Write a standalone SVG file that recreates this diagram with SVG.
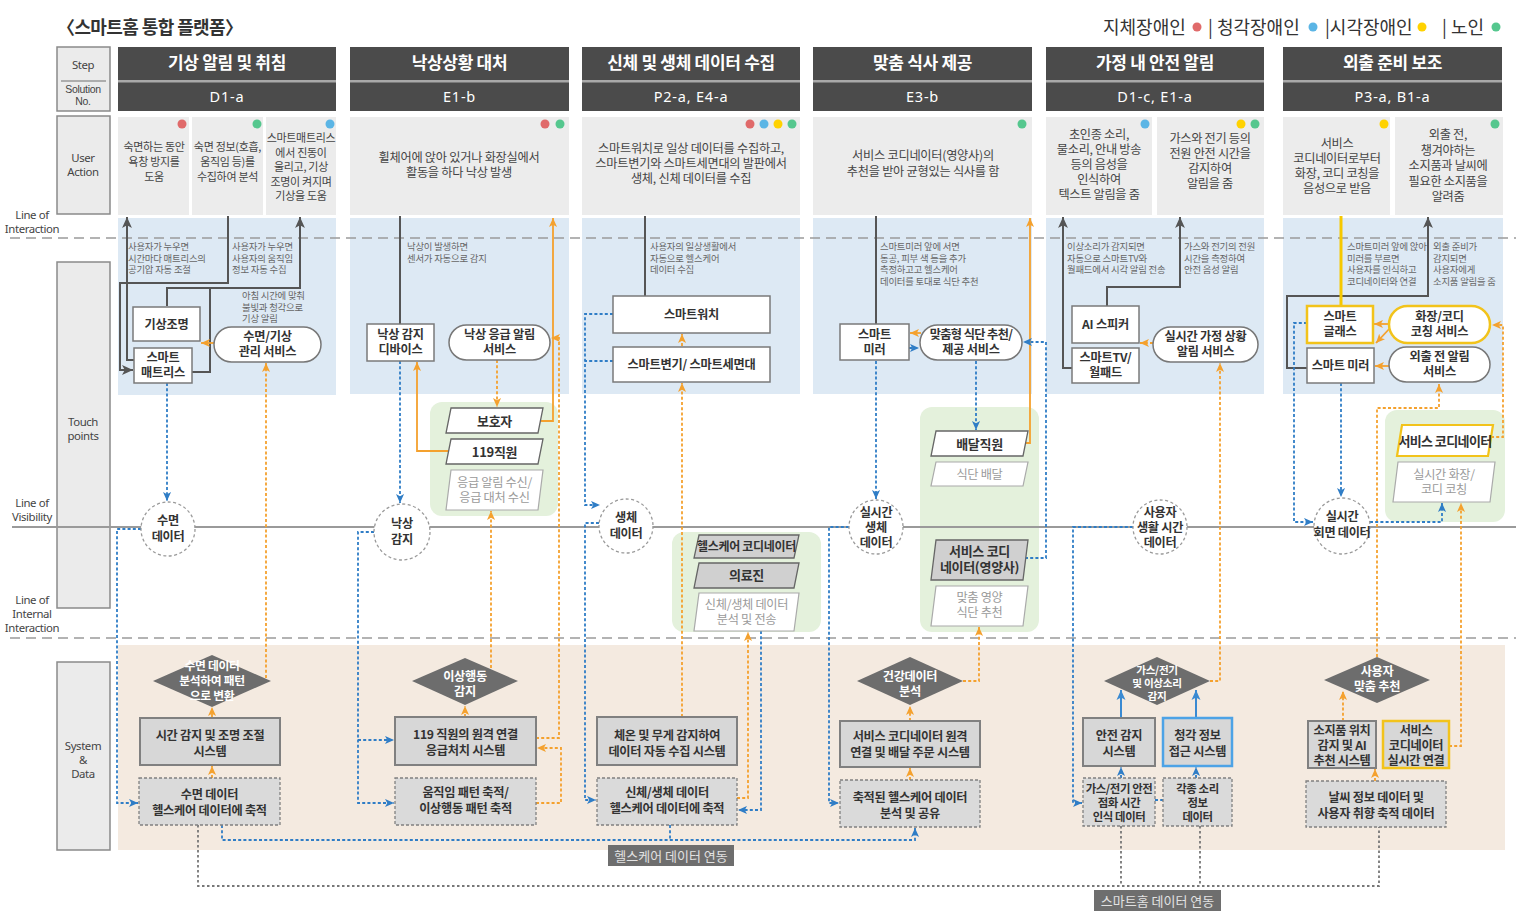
<svg xmlns="http://www.w3.org/2000/svg" width="1530" height="919" viewBox="0 0 1530 919">
<defs>
<style>
text{font-family:"Noto Sans CJK KR","Noto Sans",sans-serif;}
.ti{font-size:18px;font-weight:700;fill:#333;letter-spacing:-0.6px}
.lg{font-size:18px;fill:#333}
.ht{font-size:17px;font-weight:700;fill:#fff;text-anchor:middle;letter-spacing:-0.3px}
.hs{font-family:"Noto Sans",sans-serif;font-size:14.5px;fill:#fff;text-anchor:middle;letter-spacing:0.8px}
.lab{font-family:"Noto Sans",sans-serif;font-size:11.4px;fill:#444;text-anchor:middle;letter-spacing:-0.4px}
.lab2{font-family:"Liberation Sans",sans-serif;font-size:10.5px;fill:#444;text-anchor:middle;letter-spacing:-0.3px}
.ua{font-size:11px;fill:#444;text-anchor:middle;letter-spacing:-0.3px}
.ub{font-size:12.2px;fill:#444;text-anchor:middle;letter-spacing:-0.25px}
.uc{font-size:12.2px;fill:#444;text-anchor:middle;letter-spacing:-0.3px}
.sm{font-size:9.4px;fill:#666;letter-spacing:-0.2px}
.tp{font-size:12.2px;font-weight:700;fill:#333;text-anchor:middle;letter-spacing:-0.2px}
.ct{font-size:12.2px;font-weight:700;fill:#333;text-anchor:middle;letter-spacing:-0.3px}
.dt{font-size:12.2px;font-weight:700;fill:#fff;text-anchor:middle;letter-spacing:-0.3px}
.sy{font-size:12.2px;font-weight:700;fill:#333;text-anchor:middle;letter-spacing:-0.25px}
.sy3{font-size:12.2px;font-weight:700;fill:#333;text-anchor:middle;letter-spacing:-0.3px}
.sy2{font-size:11.4px;font-weight:700;fill:#333;text-anchor:middle;letter-spacing:-0.4px}
.pb{font-size:13px;font-weight:700;fill:#333;text-anchor:middle;letter-spacing:-0.3px}
.pg{font-size:12.2px;fill:#9a9a9a;text-anchor:middle;letter-spacing:-0.3px}
.lk{font-size:13px;fill:#e2e2e2;text-anchor:middle}
.lbox{fill:#ebebeb;stroke:#8a8a8a;stroke-width:1.5}
.hd{fill:#4b4b4b}
.uabg{fill:#ececec}
.blue{fill:#dde9f4}
.beige{fill:#f4eae0}
.green{fill:#e4f1dc}
.box{fill:#fff;stroke:#7a7a7a;stroke-width:1.5}
.pill{fill:#fff;stroke:#777;stroke-width:1.5}
.ybox{fill:#fff;stroke:#f2c31b;stroke-width:2.5}
.sbox{fill:#d7d7d7;stroke:#808080;stroke-width:2}
.dbox{fill:#dadada;stroke:#808080;stroke-width:1.3;stroke-dasharray:3 2}
.cd{fill:#fff;stroke:#9a9a9a;stroke-width:1.3;stroke-dasharray:3 2.5}
.dia{fill:#6d6d6d}
.pw{fill:#fff;stroke:#666;stroke-width:1.3}
.pgray{fill:#d0d0d0;stroke:#666;stroke-width:1.3}
.pl{fill:#fff;stroke:#aaa;stroke-width:1.2}
.ld{fill:none;stroke:#555;stroke-width:2}
.os{fill:none;stroke:#f4a12e;stroke-width:1.8}
.od{fill:none;stroke:#f4a12e;stroke-width:1.8;stroke-dasharray:3 2.2}
.bd{fill:none;stroke:#2f7dc6;stroke-width:1.8;stroke-dasharray:3 2.2}
.bs{fill:none;stroke:#3a8ad2;stroke-width:2}
.gd{fill:none;stroke:#777;stroke-width:1.8;stroke-dasharray:2.5 2.5}
.ys{fill:none;stroke:#f6c800;stroke-width:3}
.dash{fill:none;stroke:#9a9a9a;stroke-width:1.5;stroke-dasharray:10 6}
.vis{fill:none;stroke:#9a9a9a;stroke-width:2}
</style>
<marker id="mk" viewBox="0 0 10 10" refX="10" refY="5" markerWidth="11" markerHeight="11" markerUnits="userSpaceOnUse" orient="auto"><path d="M0,0.5 L10,5 L0,9.5 L2.5,5z" fill="#555"/></marker>
<marker id="mo" viewBox="0 0 10 10" refX="10" refY="5" markerWidth="9" markerHeight="9" markerUnits="userSpaceOnUse" orient="auto"><path d="M0,0.5 L10,5 L0,9.5 L2.5,5z" fill="#f4a12e"/></marker>
<marker id="mb" viewBox="0 0 10 10" refX="10" refY="5" markerWidth="9" markerHeight="9" markerUnits="userSpaceOnUse" orient="auto"><path d="M0,0.5 L10,5 L0,9.5 L2.5,5z" fill="#2f7dc6"/></marker>
<marker id="mbs" viewBox="0 0 10 10" refX="10" refY="5" markerWidth="10" markerHeight="10" markerUnits="userSpaceOnUse" orient="auto"><path d="M0,0.5 L10,5 L0,9.5 L2.5,5z" fill="#3a8ad2"/></marker>
</defs>

<rect width="1530" height="919" fill="#fff"/>

<g id="title">
<text class="ti" x="57" y="34">〈스마트홈 통합 플랫폼〉</text>
</g>
<g id="legend">
<text class="lg" x="1103" y="34">지체장애인</text>
<circle cx="1197" cy="27" r="4.5" fill="#e06a6a"/>
<text class="lg" x="1208" y="34">| 청각장애인</text>
<circle cx="1313" cy="27" r="4.5" fill="#5bb5e5"/>
<text class="lg" x="1325" y="34">|시각장애인</text>
<circle cx="1422" cy="27" r="4.5" fill="#ffd200"/>
<text class="lg" x="1442" y="34">| 노인</text>
<circle cx="1496" cy="27" r="4.5" fill="#55c78e"/>
</g>

<g id="row-labels">
<rect class="lbox" x="57" y="47" width="53" height="64"/>
<line x1="61" y1="81" x2="106" y2="81" stroke="#999" stroke-width="1.5"/>
<text class="lab" x="83" y="69">Step</text>
<text class="lab2" x="83" y="93">Solution</text>
<text class="lab2" x="83" y="105">No.</text>
<rect class="lbox" x="57" y="116" width="53" height="98"/>
<text class="lab" x="83" y="162">User</text>
<text class="lab" x="83" y="176">Action</text>
<rect class="lbox" x="57" y="262" width="53" height="346"/>
<text class="lab" x="83" y="426">Touch</text>
<text class="lab" x="83" y="440">points</text>
<rect class="lbox" x="57" y="662" width="53" height="188"/>
<text class="lab" x="83" y="750">System</text>
<text class="lab" x="83" y="764">&amp;</text>
<text class="lab" x="83" y="778">Data</text>
<text class="lab" x="32" y="219">Line of</text>
<text class="lab" x="32" y="233">Interaction</text>
<text class="lab" x="32" y="507">Line of</text>
<text class="lab" x="32" y="521">Visibility</text>
<text class="lab" x="32" y="604">Line of</text>
<text class="lab" x="32" y="618">Internal</text>
<text class="lab" x="32" y="632">Interaction</text>
</g>

<g id="headers">
<rect class="hd" x="118" y="47" width="218" height="64"/>
<rect class="hd" x="350" y="47" width="219" height="64"/>
<rect class="hd" x="582" y="47" width="218" height="64"/>
<rect class="hd" x="813" y="47" width="219" height="64"/>
<rect class="hd" x="1046" y="47" width="218" height="64"/>
<rect class="hd" x="1283" y="47" width="219" height="64"/>
<g fill="#a9a9a9">
<rect x="118" y="80" width="218" height="2.5"/><rect x="350" y="80" width="219" height="2.5"/><rect x="582" y="80" width="218" height="2.5"/><rect x="813" y="80" width="219" height="2.5"/><rect x="1046" y="80" width="218" height="2.5"/><rect x="1283" y="80" width="219" height="2.5"/>
</g>
<text class="ht" x="227" y="69">기상 알림 및 취침</text>
<text class="ht" x="459.5" y="69">낙상상황 대처</text>
<text class="ht" x="691" y="69">신체 및 생체 데이터 수집</text>
<text class="ht" x="922.5" y="69">맞춤 식사 제공</text>
<text class="ht" x="1155" y="69">가정 내 안전 알림</text>
<text class="ht" x="1392.5" y="69">외출 준비 보조</text>
<text class="hs" x="227" y="102">D1-a</text>
<text class="hs" x="459.5" y="102">E1-b</text>
<text class="hs" x="691" y="102">P2-a, E4-a</text>
<text class="hs" x="922.5" y="102">E3-b</text>
<text class="hs" x="1155" y="102">D1-c, E1-a</text>
<text class="hs" x="1392.5" y="102">P3-a, B1-a</text>
</g>

<g id="backgrounds">
<rect class="uabg" x="118" y="117" width="71" height="98"/>
<rect class="uabg" x="192" y="117" width="71" height="98"/>
<rect class="uabg" x="266" y="117" width="70" height="98"/>
<rect class="uabg" x="350" y="117" width="219" height="98"/>
<rect class="uabg" x="582" y="117" width="218" height="98"/>
<rect class="uabg" x="813" y="117" width="219" height="98"/>
<rect class="uabg" x="1046" y="117" width="106" height="98"/>
<rect class="uabg" x="1157" y="117" width="107" height="98"/>
<rect class="uabg" x="1283" y="117" width="107" height="98"/>
<rect class="uabg" x="1395" y="117" width="108" height="98"/>
<rect class="blue" x="118" y="218" width="218" height="177"/>
<rect class="blue" x="350" y="218" width="219" height="176"/>
<rect class="blue" x="582" y="218" width="218" height="176"/>
<rect class="blue" x="813" y="218" width="219" height="176"/>
<rect class="blue" x="1046" y="218" width="218" height="176"/>
<rect class="blue" x="1283" y="218" width="220" height="176"/>
<rect class="beige" x="118" y="645" width="1387" height="205"/>
<rect class="green" x="430" y="402" width="128" height="114" rx="12"/>
<rect class="green" x="672" y="532" width="149" height="100" rx="12"/>
<rect class="green" x="920" y="407" width="119" height="225" rx="12"/>
<rect class="green" x="1385" y="410" width="120" height="112" rx="12"/>
</g>

<g id="user-actions">
<g fill="#e06a6a"><circle cx="182" cy="124" r="4.5"/><circle cx="545" cy="124" r="4.5"/><circle cx="750" cy="124" r="4.5"/></g>
<g fill="#55c78e"><circle cx="257" cy="124" r="4.5"/><circle cx="560" cy="124" r="4.5"/><circle cx="792" cy="124" r="4.5"/><circle cx="1022" cy="124" r="4.5"/><circle cx="1255" cy="124" r="4.5"/><circle cx="1495" cy="124" r="4.5"/></g>
<g fill="#5bb5e5"><circle cx="330" cy="124" r="4.5"/><circle cx="764" cy="124" r="4.5"/><circle cx="1145" cy="124" r="4.5"/></g>
<g fill="#ffd200"><circle cx="778" cy="124" r="4.5"/><circle cx="1241" cy="124" r="4.5"/><circle cx="1384" cy="124" r="4.5"/></g>
<text class="ua"><tspan x="154" y="151">숙면하는 동안</tspan><tspan x="154" y="166">욕창 방지를</tspan><tspan x="154" y="181">도움</tspan></text>
<text class="ua"><tspan x="227.5" y="151">숙면 정보(호흡,</tspan><tspan x="227.5" y="166">움직임 등)를</tspan><tspan x="227.5" y="181">수집하여 분석</tspan></text>
<text class="ua"><tspan x="301" y="142">스마트매트리스</tspan><tspan x="301" y="156.5">에서 진동이</tspan><tspan x="301" y="171">울리고, 기상</tspan><tspan x="301" y="185.5">조명이 켜지며</tspan><tspan x="301" y="200">기상을 도움</tspan></text>
<text class="ub"><tspan x="459" y="162">휠체어에 앉아 있거나 화장실에서</tspan><tspan x="459" y="177">활동을 하다 낙상 발생</tspan></text>
<text class="ub"><tspan x="691" y="153">스마트워치로 일상 데이터를 수집하고,</tspan><tspan x="691" y="168">스마트변기와 스마트세면대의 발판에서</tspan><tspan x="691" y="183">생체, 신체 데이터를 수집</tspan></text>
<text class="ub"><tspan x="923" y="160">서비스 코디네이터(영양사)의</tspan><tspan x="923" y="176">추천을 받아 균형있는 식사를 함</tspan></text>
<text class="uc"><tspan x="1099" y="139">초인종 소리,</tspan><tspan x="1099" y="154">물소리, 안내 방송</tspan><tspan x="1099" y="169">등의 음성을</tspan><tspan x="1099" y="184">인식하여</tspan><tspan x="1099" y="199">텍스트 알림을 줌</tspan></text>
<text class="uc"><tspan x="1210" y="143">가스와 전기 등의</tspan><tspan x="1210" y="158">전원 안전 시간을</tspan><tspan x="1210" y="173">감지하여</tspan><tspan x="1210" y="188">알림을 줌</tspan></text>
<text class="uc"><tspan x="1337" y="148">서비스</tspan><tspan x="1337" y="163">코디네이터로부터</tspan><tspan x="1337" y="178">화장, 코디 코칭을</tspan><tspan x="1337" y="193">음성으로 받음</tspan></text>
<text class="uc"><tspan x="1448" y="139">외출 전,</tspan><tspan x="1448" y="155">챙겨야하는</tspan><tspan x="1448" y="170">소지품과 날씨에</tspan><tspan x="1448" y="186">필요한 소지품을</tspan><tspan x="1448" y="201">알려줌</tspan></text>
</g>

<g id="notes">
<text class="sm"><tspan x="128" y="250">사용자가 누우면</tspan><tspan x="128" y="261.5">시간마다 매트리스의</tspan><tspan x="128" y="273">공기압 자동 조절</tspan></text>
<text class="sm"><tspan x="232" y="250">사용자가 누우면</tspan><tspan x="232" y="261.5">사용자의 움직임</tspan><tspan x="232" y="273">정보 자동 수집</tspan></text>
<text class="sm"><tspan x="242" y="299">아침 시간에 맞춰</tspan><tspan x="242" y="310.5">불빛과 청각으로</tspan><tspan x="242" y="322">기상 알림</tspan></text>
<text class="sm"><tspan x="407" y="250">낙상이 발생하면</tspan><tspan x="407" y="261.5">센서가 자동으로 감지</tspan></text>
<text class="sm"><tspan x="650" y="250">사용자의 일상생활에서</tspan><tspan x="650" y="261.5">자동으로 헬스케어</tspan><tspan x="650" y="273">데이터 수집</tspan></text>
<text class="sm"><tspan x="880" y="250">스마트미러 앞에 서면</tspan><tspan x="880" y="261.5">동공, 피부 색 등을 추가</tspan><tspan x="880" y="273">측정하고고 헬스케어</tspan><tspan x="880" y="284.5">데이터를 토대로 식단 추천</tspan></text>
<text class="sm"><tspan x="1067" y="250">이상소리가 감지되면</tspan><tspan x="1067" y="261.5">자동으로 스마트TV와</tspan><tspan x="1067" y="273">월패드에서 시각 알림 전송</tspan></text>
<text class="sm"><tspan x="1184" y="250">가스와 전기의 전원</tspan><tspan x="1184" y="261.5">시간을 측정하여</tspan><tspan x="1184" y="273">안전 음성 알림</tspan></text>
<text class="sm"><tspan x="1347" y="250">스마트미러 앞에 앉아</tspan><tspan x="1347" y="261.5">미러를 부르면</tspan><tspan x="1347" y="273">사용자를 인식하고</tspan><tspan x="1347" y="284.5">코디네이터와 연결</tspan></text>
<text class="sm"><tspan x="1433" y="250">외출 준비가</tspan><tspan x="1433" y="261.5">감지되면</tspan><tspan x="1433" y="273">사용자에게</tspan><tspan x="1433" y="284.5">소지품 알림을 줌</tspan></text>
</g>

<g id="service-lines">
<line class="dash" x1="10" y1="238" x2="1516" y2="238"/>
<line class="vis" x1="12" y1="527" x2="1516" y2="527"/>
<line class="dash" x1="10" y1="638" x2="1516" y2="638"/>
</g>

<g id="connectors">
<path class="ld" d="M228,216 V283 H120 V370 H133" marker-end="url(#mk)"/>
<path class="ld" d="M134,360 H127 V217" marker-end="url(#mk)"/>
<path class="ld" d="M167,306 V288 H300 V217" marker-end="url(#mk)"/>
<path class="ld" d="M192,372 H210 V288"/>
<path class="ld" d="M400,216 V324"/>
<path class="ld" d="M645,216 V296"/>
<path class="ld" d="M876,216 V324"/>
<path class="ld" d="M1072,368 H1063 V217" marker-end="url(#mk)"/>
<path class="ld" d="M1107,306 V287 H1180 V217" marker-end="url(#mk)"/>
<path class="ld" d="M1307,368 H1287 V296 H1428 V217" marker-end="url(#mk)"/>
<path class="ys" d="M1341,216 V306"/>

<path class="os" d="M214,343 H201" marker-end="url(#mo)"/>
<path class="os" d="M541,421 H553 V218" marker-end="url(#mo)"/>
<path class="os" d="M448,451 H417 V362" marker-end="url(#mo)"/>
<path class="os" d="M921,333 H910" marker-end="url(#mo)"/>
<path class="os" d="M1025,443 H1030 V218" marker-end="url(#mo)"/>
<path class="os" d="M1389,324 H1374" marker-end="url(#mo)"/>
<path class="os" d="M1391,327 L1376,343" marker-end="url(#mo)"/>
<path class="os" d="M1389,366 H1375" marker-end="url(#mo)"/>

<path class="od" d="M266,678 V363" marker-end="url(#mo)"/>
<path class="od" d="M212,717 V707" marker-end="url(#mo)"/>
<path class="od" d="M212,778 V766" marker-end="url(#mo)"/>
<path class="od" d="M497,360 V407" marker-end="url(#mo)"/>
<path class="od" d="M536,738 H559 V338 H551" marker-end="url(#mo)"/>
<path class="od" d="M536,803 H561 V748 H537" marker-end="url(#mo)"/>
<path class="od" d="M491,668 V511" marker-end="url(#mo)"/>
<path class="od" d="M465,717 V706" marker-end="url(#mo)"/>
<path class="od" d="M682,346 V334" marker-end="url(#mo)"/>
<path class="od" d="M682,717 V383" marker-end="url(#mo)"/>
<path class="od" d="M737,798 H748 V632" marker-end="url(#mo)"/>
<path class="od" d="M910,721 V706" marker-end="url(#mo)"/>
<path class="od" d="M910,780 V768" marker-end="url(#mo)"/>
<path class="od" d="M963,681 H979 V627" marker-end="url(#mo)"/>
<path class="od" d="M1210,681 H1220 V363" marker-end="url(#mo)"/>
<path class="od" d="M1153,343 H1140" marker-end="url(#mo)"/>
<path class="od" d="M1491,437 H1503 V325 H1492" marker-end="url(#mo)"/>
<path class="od" d="M1377,657 V408 H1439 V384" marker-end="url(#mo)"/>
<path class="od" d="M1449,746 H1461 V503" marker-end="url(#mo)"/>
<path class="od" d="M1343,721 V691" marker-end="url(#mo)"/>
<path class="od" d="M1375,781 V769" marker-end="url(#mo)"/>

<path class="bd" d="M167,383 V501" marker-end="url(#mb)"/>
<path class="bd" d="M141,529 H117 V803 H138" marker-end="url(#mb)"/>
<path class="bd" d="M400,361 V503" marker-end="url(#mb)"/>
<path class="bd" d="M374,532 H358 V803 H394" marker-end="url(#mb)"/>
<path class="bd" d="M358,740 H394" marker-end="url(#mb)"/>
<path class="bd" d="M613,314 H585 V505 H600" marker-end="url(#mb)"/>
<path class="bd" d="M613,361 H585"/>
<path class="bd" d="M599,523 H585 V800 H596" marker-end="url(#mb)"/>
<path class="bd" d="M761,631 V810 H738" marker-end="url(#mb)"/>
<path class="bd" d="M876,361 V499" marker-end="url(#mb)"/>
<path class="bd" d="M976,361 V430" marker-end="url(#mb)"/>
<path class="bd" d="M909,348 H919" marker-end="url(#mb)"/>
<path class="bd" d="M1025,558 H1046 V342 H1023" marker-end="url(#mb)"/>
<path class="bd" d="M849,527 H829 V803 H839" marker-end="url(#mb)"/>
<path class="bd" d="M222,825 V840 H915 V828" marker-end="url(#mb)"/>
<path class="bd" d="M670,825 V840"/>
<path class="bd" d="M1133,527 H1073 V803 H1082" marker-end="url(#mb)"/>
<path class="bd" d="M1121,778 V767" marker-end="url(#mb)"/>
<path class="bd" d="M1196,778 V767" marker-end="url(#mb)"/>
<path class="bd" d="M1155,800 H1163"/>
<path class="bd" d="M1307,323 H1294 V522 H1313" marker-end="url(#mb)"/>
<path class="bd" d="M1341,383 V497" marker-end="url(#mb)"/>
<path class="bd" d="M1370,522 H1442 V503" marker-end="url(#mb)"/>

<path class="bs" d="M1121,718 V690" marker-end="url(#mbs)"/>
<path class="bs" d="M1196,718 V690" marker-end="url(#mbs)"/>

<path class="gd" d="M198,825 V886 H1379 V827"/>
<path class="gd" d="M1121,826 V886"/>
<path class="gd" d="M1200,826 V886"/>
</g>

<g id="n-wake-light"><rect class="box" x="133" y="307" width="67" height="34"/><text class="tp" x="166.5" y="328.5">기상조명</text></g>
<g id="n-smart-mattress"><rect class="box" x="134" y="348" width="58" height="35"/><text class="tp" x="163" y="362">스마트</text><text class="tp" x="163" y="377">매트리스</text></g>
<g id="n-sleep-service"><rect class="pill" x="214" y="327" width="107" height="35" rx="17.5"/><text class="tp" x="267.5" y="341">수면/기상</text><text class="tp" x="267.5" y="356">관리 서비스</text></g>
<g id="n-sleep-data"><circle class="cd" cx="168" cy="529" r="27"/><text class="ct" x="168" y="525">수면</text><text class="ct" x="168" y="541">데이터</text></g>
<g id="n-sleep-diamond"><polygon class="dia" points="212,655 271,681 212,707 153,681"/><text class="dt" x="212" y="670" style="font-size:11.8px">수면 데이터</text><text class="dt" x="212" y="685" style="font-size:11.8px">분석하여 패턴</text><text class="dt" x="212" y="700" style="font-size:11.8px">으로 변환</text></g>
<g id="n-time-light"><rect class="sbox" x="140" y="718" width="140" height="47"/><text class="sy" x="210" y="740">시간 감지 및 조명 조절</text><text class="sy" x="210" y="755.5">시스템</text></g>
<g id="n-sleep-store"><rect class="dbox" x="139" y="778" width="141" height="47"/><text class="sy" x="209.5" y="799">수면 데이터</text><text class="sy" x="209.5" y="814.5">헬스케어 데이터에 축적</text></g>

<g id="n-fall-device"><rect class="box" x="367" y="324" width="67" height="37"/><text class="tp" x="400.5" y="339">낙상 감지</text><text class="tp" x="400.5" y="354">디바이스</text></g>
<g id="n-fall-service"><rect class="pill" x="449" y="325" width="101" height="35" rx="17.5"/><text class="tp" x="499.5" y="339">낙상 응급 알림</text><text class="tp" x="499.5" y="354">서비스</text></g>
<g id="n-guardian"><polygon class="pw" points="451,408 543,408 538,433 446,433"/><text class="pb" x="494.5" y="425.5">보호자</text></g>
<g id="n-119staff"><polygon class="pw" points="451,439 543,439 538,464 446,464"/><text class="pb" x="494.5" y="456.5">119직원</text></g>
<g id="n-emergency-recv"><polygon class="pl" points="451,470 543,470 538,510 446,510"/><text class="pg" x="494.5" y="487">응급 알림 수신/</text><text class="pg" x="494.5" y="502">응급 대처 수신</text></g>
<g id="n-fall-detect"><circle class="cd" cx="402" cy="532" r="28"/><text class="ct" x="402" y="528">낙상</text><text class="ct" x="402" y="544">감지</text></g>
<g id="n-abnormal-diamond"><polygon class="dia" points="465,658 518,681 465,705 412,681"/><text class="dt" x="465" y="681">이상행동</text><text class="dt" x="465" y="696">감지</text></g>
<g id="n-119system"><rect class="sbox" x="395" y="717" width="141" height="48"/><text class="sy" x="465.5" y="739">119 직원의 원격 연결</text><text class="sy" x="465.5" y="754.5">응급처치 시스템</text></g>
<g id="n-motion-store"><rect class="dbox" x="395" y="778" width="141" height="47"/><text class="sy" x="465.5" y="797">움직임 패턴 축적/</text><text class="sy" x="465.5" y="812.5">이상행동 패턴 축적</text></g>

<g id="n-smartwatch"><rect class="box" x="613" y="296" width="157" height="37"/><text class="tp" x="691.5" y="319">스마트워치</text></g>
<g id="n-smart-toilet"><rect class="box" x="613" y="347" width="157" height="35"/><text class="tp" x="691.5" y="369">스마트변기/ 스마트세면대</text></g>
<g id="n-bio-data"><circle class="cd" cx="626" cy="526" r="27"/><text class="ct" x="626" y="522">생체</text><text class="ct" x="626" y="538">데이터</text></g>
<g id="n-hc-coord"><polygon class="pgray" points="699,535 799,535 794,558 694,558"/><text class="pb" x="746.5" y="551" style="font-size:12px">헬스케어 코디네이터</text></g>
<g id="n-medical"><polygon class="pgray" points="699,563 799,563 794,588 694,588"/><text class="pb" x="746.5" y="580">의료진</text></g>
<g id="n-bio-analysis"><polygon class="pl" points="699,593 799,593 794,631 694,631"/><text class="pg" x="746.5" y="609">신체/생체 데이터</text><text class="pg" x="746.5" y="624">분석 및 전송</text></g>
<g id="n-temp-system"><rect class="sbox" x="597" y="717" width="140" height="48"/><text class="sy" x="667" y="740">체온 및 무게 감지하여</text><text class="sy" x="667" y="755.5">데이터 자동 수집 시스템</text></g>
<g id="n-bio-store"><rect class="dbox" x="597" y="778" width="140" height="47"/><text class="sy" x="667" y="797">신체/생체 데이터</text><text class="sy" x="667" y="812.5">헬스케어 데이터에 축적</text></g>
<g id="n-hc-link"><rect x="608" y="845" width="126" height="21" fill="#6e6e6e"/><text class="lk" x="671" y="860.5">헬스케어 데이터 연동</text></g>

<g id="n-smart-mirror"><rect class="box" x="840" y="324" width="69" height="36"/><text class="tp" x="874.5" y="339">스마트</text><text class="tp" x="874.5" y="354">미러</text></g>
<g id="n-diet-service"><rect class="pill" x="920" y="325" width="102" height="35" rx="17.5"/><text class="tp" x="971" y="339" style="letter-spacing:-0.6px">맞춤형 식단 추천/</text><text class="tp" x="971" y="354">제공 서비스</text></g>
<g id="n-delivery"><polygon class="pw" points="936,431 1028,431 1023,456 931,456"/><text class="pb" x="979.5" y="448.5">배달직원</text></g>
<g id="n-diet-delivery"><polygon class="pl" points="936,462 1028,462 1023,486 931,486"/><text class="pg" x="979.5" y="479">식단 배달</text></g>
<g id="n-rt-bio"><circle class="cd" cx="876" cy="527" r="27"/><text class="ct" x="876" y="517">실시간</text><text class="ct" x="876" y="532">생체</text><text class="ct" x="876" y="547">데이터</text></g>
<g id="n-nutritionist"><polygon class="pgray" points="936,540 1028,540 1023,580 931,580"/><text class="pb" x="979.5" y="556">서비스 코디</text><text class="pb" x="979.5" y="572">네이터(영양사)</text></g>
<g id="n-diet-reco"><polygon class="pl" points="936,586 1028,586 1023,626 931,626"/><text class="pg" x="979.5" y="602">맞춤 영양</text><text class="pg" x="979.5" y="617">식단 추천</text></g>
<g id="n-health-diamond"><polygon class="dia" points="910,657 963,681 910,705 857,681"/><text class="dt" x="910" y="681">건강데이터</text><text class="dt" x="910" y="696">분석</text></g>
<g id="n-order-system"><rect class="sbox" x="840" y="721" width="140" height="46"/><text class="sy" x="910" y="741">서비스  코디네이터 원격</text><text class="sy" x="910" y="756.5">연결 및 배달 주문 시스템</text></g>
<g id="n-hc-analysis"><rect class="dbox" x="840" y="780" width="140" height="47"/><text class="sy" x="910" y="802">축적된 헬스케어 데이터</text><text class="sy" x="910" y="817.5">분석 및 공유</text></g>

<g id="n-ai-speaker"><rect class="box" x="1072" y="306" width="67" height="37"/><text class="tp" x="1105.5" y="329">AI 스피커</text></g>
<g id="n-smart-tv"><rect class="box" x="1072" y="348" width="67" height="35"/><text class="tp" x="1105.5" y="362">스마트TV/</text><text class="tp" x="1105.5" y="377">월패드</text></g>
<g id="n-home-service"><rect class="pill" x="1153" y="327" width="105" height="35" rx="17.5"/><text class="tp" x="1205.5" y="341">실시간 가정 상황</text><text class="tp" x="1205.5" y="356">알림 서비스</text></g>
<g id="n-life-data"><circle class="cd" cx="1160" cy="527" r="27"/><text class="ct" x="1160" y="517">사용자</text><text class="ct" x="1160" y="532">생활 시간</text><text class="ct" x="1160" y="547">데이터</text></g>
<g id="n-gas-diamond"><polygon class="dia" points="1157,657 1210,681 1157,705 1104,681"/><text class="dt" x="1157" y="674" style="font-size:10.6px">가스/전기</text><text class="dt" x="1157" y="687" style="font-size:10.6px">및 이상소리</text><text class="dt" x="1157" y="700" style="font-size:10.6px">감지</text></g>
<g id="n-safety-system"><rect class="sbox" x="1083" y="718" width="72" height="48"/><text class="sy" x="1119" y="740">안전 감지</text><text class="sy" x="1119" y="755.5">시스템</text></g>
<g id="n-hearing-system"><rect x="1163" y="718" width="69" height="48" fill="#d7d7d7" stroke="#4da3e6" stroke-width="2.5"/><text class="sy" x="1197.5" y="740">청각 정보</text><text class="sy" x="1197.5" y="755.5">접근 시스템</text></g>
<g id="n-gas-data"><rect class="dbox" x="1083" y="778" width="72" height="48"/><text class="sy2" x="1119" y="793">가스/전기 안전</text><text class="sy2" x="1119" y="807">점화 시간</text><text class="sy2" x="1119" y="821">인식 데이터</text></g>
<g id="n-sound-data"><rect class="dbox" x="1163" y="778" width="69" height="48"/><text class="sy2" x="1197.5" y="793">각종 소리</text><text class="sy2" x="1197.5" y="807">정보</text><text class="sy2" x="1197.5" y="821">데이터</text></g>

<g id="n-smart-glass"><rect class="ybox" x="1307" y="306" width="66" height="37"/><text class="tp" x="1340" y="320.5">스마트</text><text class="tp" x="1340" y="336">글래스</text></g>
<g id="n-smart-mirror2"><rect class="box" x="1307" y="348" width="67" height="35"/><text class="tp" x="1340.5" y="370">스마트 미러</text></g>
<g id="n-coaching-service"><rect x="1389" y="306" width="101" height="37" rx="18.5" fill="#fff" stroke="#f2c31b" stroke-width="2.5"/><text class="tp" x="1439.5" y="321">화장/코디</text><text class="tp" x="1439.5" y="336">코칭 서비스</text></g>
<g id="n-outing-service"><rect class="pill" x="1389" y="347" width="101" height="35" rx="17.5"/><text class="tp" x="1439.5" y="361">외출 전 알림</text><text class="tp" x="1439.5" y="376">서비스</text></g>
<g id="n-coordinator"><polygon points="1402,425 1493,425 1488,456 1397,456" fill="#fff" stroke="#f2c31b" stroke-width="2.2"/><text class="pb" x="1445" y="445.5" style="letter-spacing:-0.6px">서비스 코디네이터</text></g>
<g id="n-rt-coaching"><polygon class="pl" points="1398,462 1495,462 1490,502 1393,502"/><text class="pg" x="1444" y="479">실시간 화장/</text><text class="pg" x="1444" y="494">코디 코칭</text></g>
<g id="n-screen-data"><circle class="cd" cx="1342" cy="526" r="28"/><text class="ct" x="1342" y="521">실시간</text><text class="ct" x="1342" y="537">회면 데이터</text></g>
<g id="n-user-diamond"><polygon class="dia" points="1377,657 1430,680 1377,703 1324,680"/><text class="dt" x="1377" y="676">사용자</text><text class="dt" x="1377" y="691">맞춤 추천</text></g>
<g id="n-item-system"><rect class="sbox" x="1308" y="721" width="68" height="47"/><text class="sy3" x="1342" y="735">소지품 위치</text><text class="sy3" x="1342" y="750">감지 및 AI</text><text class="sy3" x="1342" y="765">추천 시스템</text></g>
<g id="n-coord-connect"><rect x="1383" y="721" width="66" height="47" fill="#d7d7d7" stroke="#f2c31b" stroke-width="2.5"/><text class="sy3" x="1416" y="735">서비스</text><text class="sy3" x="1416" y="750">코디네이터</text><text class="sy3" x="1416" y="765">실시간 연결</text></g>
<g id="n-weather-data"><rect class="dbox" x="1306" y="781" width="140" height="46"/><text class="sy" x="1376" y="802">날씨 정보 데이터 및</text><text class="sy" x="1376" y="817.5">사용자 취향 축적 데이터</text></g>
<g id="n-home-link"><rect x="1094" y="890" width="127" height="21" fill="#6e6e6e"/><text class="lk" x="1157.5" y="905.5">스마트홈 데이터 연동</text></g>
</svg>
